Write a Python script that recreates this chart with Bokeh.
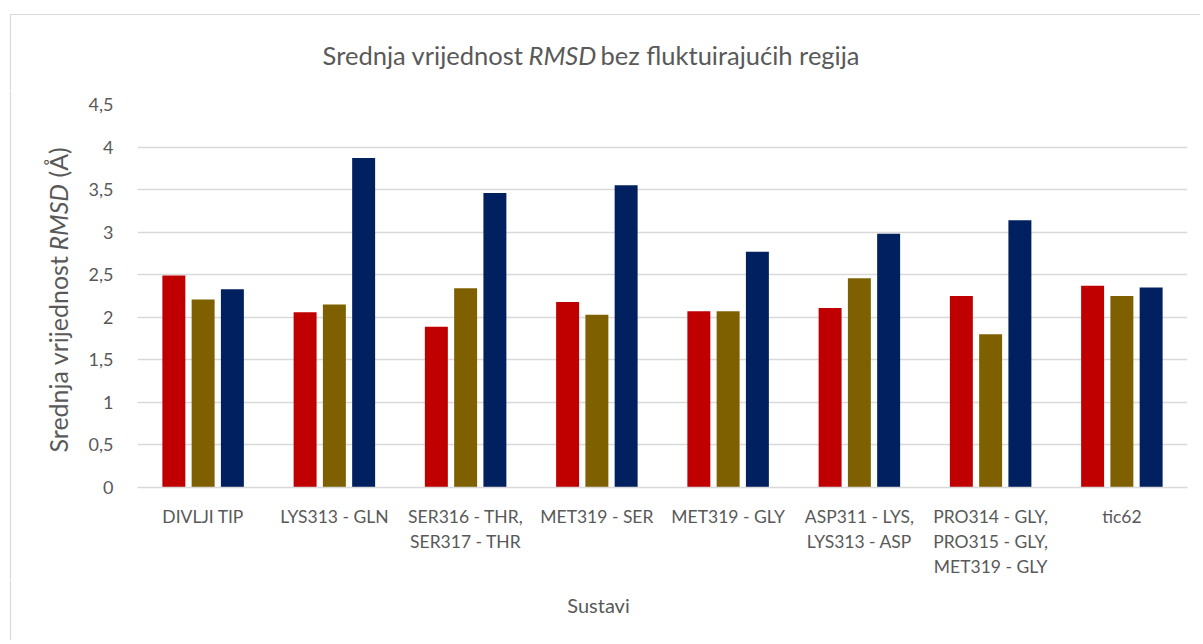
import math
from bokeh.plotting import figure
from bokeh.layouts import column, row
from bokeh.models import (ColumnDataSource, FactorRange, Range1d, FixedTicker,
                          CustomJSTickFormatter)
from bokeh.transform import dodge
from bokeh.embed import file_html
from bokeh.resources import INLINE
from bokeh.core.properties import value

# ---------------- data ----------------
categories = ["DIVLJI TIP", "LYS313 - GLN", "SER316 - THR,\nSER317 - THR",
              "MET319 - SER", "MET319 - GLY", "ASP311 - LYS,\nLYS313 - ASP",
              "PRO314 - GLY,\nPRO315 - GLY,\nMET319 - GLY", "tic62"]
series_names = ["Serija 1", "Serija 2", "Serija 3"]
serija1 = [2.49, 2.06, 1.89, 2.18, 2.07, 2.11, 2.25, 2.37]
serija2 = [2.21, 2.15, 2.34, 2.03, 2.07, 2.46, 1.80, 2.25]
serija3 = [2.33, 3.87, 3.46, 3.55, 2.77, 2.98, 3.14, 2.35]
colors = ["#C00000", "#7F6000", "#002060"]
y_ticks = [0, 0.5, 1, 1.5, 2, 2.5, 3, 3.5, 4, 4.5]

title_parts = ["Srednja vrijednost", "RMSD", "bez fluktuirajućih regija"]
ylabel_parts = ["Srednja vrijednost", "RMSD", "(Å)"]
xlabel = "Sustavi"

FONT = "Lato"
TXT = "#595959"
BORDER = "#d9d9d9"

W = 1200
TOP_H, MID_H, BOT_H = 90, 490, 60
YL_W = 85


def blank(w, h):
    f = figure(width=w, height=h, x_range=Range1d(0, w), y_range=Range1d(0, h),
               x_axis_type=None, y_axis_type=None, output_backend="svg",
               toolbar_location=None, title=None, min_border=0)
    f.min_border_left = f.min_border_right = f.min_border_top = f.min_border_bottom = 0
    f.grid.visible = False
    f.outline_line_color = None
    f.background_fill_color = "white"
    f.border_fill_color = "white"
    return f


def txt(f, x, y, t, size, align, italic=False, angle=0.0):
    f.text(x=[x], y=[y], text=[t], text_font=value(FONT), text_font_size=value(size),
           text_color=TXT, text_align=value(align), text_baseline=value("alphabetic"),
           text_font_style=value("italic" if italic else "normal"), angle=angle)


# ---------------- title strip (page y 0..90) ----------------
tf = blank(W, TOP_H)
tf.line(x=[10, 10, W], y=[0, TOP_H - 14, TOP_H - 14], line_color=BORDER, line_width=1.2)
ty = TOP_H - 54
txt(tf, 523, ty, title_parts[0], "25.5px", "right")
txt(tf, 528, ty, title_parts[1], "25.5px", "left", italic=True)
txt(tf, 600, ty, title_parts[2], "25.5px", "left")

# ---------------- y label strip ----------------
yf = blank(YL_W, MID_H)
yf.line(x=[10, 10], y=[0, MID_H], line_color=BORDER, line_width=1.2)
yb = TOP_H + MID_H
a = math.pi / 2
txt(yf, 57, yb - 452, ylabel_parts[0], "25px", "left", angle=a)
txt(yf, 57, yb - 250, ylabel_parts[1], "25px", "left", italic=True, angle=a)
txt(yf, 57, yb - 177, ylabel_parts[2], "25px", "left", angle=a)

# ---------------- main chart ----------------
source = ColumnDataSource(dict(cat=categories, s1=serija1, s2=serija2, s3=serija3))
MW = W - YL_W
p = figure(x_range=FactorRange(*categories), y_range=Range1d(0, 4.5),
           width=MW, height=MID_H, output_backend="svg", toolbar_location=None,
           title=None,
           min_border_left=137 - YL_W, min_border_right=W - 1187,
           min_border_top=104 - TOP_H, min_border_bottom=TOP_H + MID_H - 487)
p.outline_line_color = None
p.background_fill_color = "white"
p.border_fill_color = "white"

offs = [-0.223, 0.0, 0.223]
for col, off, c, nm in zip(["s1", "s2", "s3"], offs, colors, series_names):
    p.vbar(x=dodge("cat", off, range=p.x_range), top=col, width=0.175,
           source=source, fill_color=c, line_color=None)

p.yaxis.ticker = FixedTicker(ticks=y_ticks)
p.yaxis.formatter = CustomJSTickFormatter(code="return tick.toString().replace('.', ',');")
p.yaxis.axis_line_color = None
p.yaxis.major_tick_line_color = None
p.yaxis.minor_tick_line_color = None
p.yaxis.major_label_text_font = FONT
p.yaxis.major_label_text_font_size = "18px"
p.yaxis.major_label_text_color = TXT
p.yaxis.major_label_standoff = 18

p.xaxis.axis_line_color = BORDER
p.xaxis.axis_line_width = 1.5
p.xaxis.major_tick_line_color = None
p.xaxis.minor_tick_line_color = None
p.xaxis.major_label_text_font = FONT
p.xaxis.major_label_text_font_size = "17.5px"
p.xaxis.major_label_text_color = TXT
p.xaxis.major_label_standoff = 12

p.xgrid.grid_line_color = None
p.ygrid.grid_line_color = BORDER
p.ygrid.grid_line_width = 1.5
p.ygrid.ticker = FixedTicker(ticks=y_ticks)

# ---------------- x label strip ----------------
bf = blank(W, BOT_H)
bf.line(x=[10, 10], y=[0, BOT_H], line_color=BORDER, line_width=1.2)
txt(bf, 598, TOP_H + MID_H + BOT_H - 604, xlabel, "20px", "center")

layout = column(tf, row(column(yf, spacing=0), p, spacing=0), bf, spacing=0)
open("out.html", "w").write(file_html(layout, INLINE))
